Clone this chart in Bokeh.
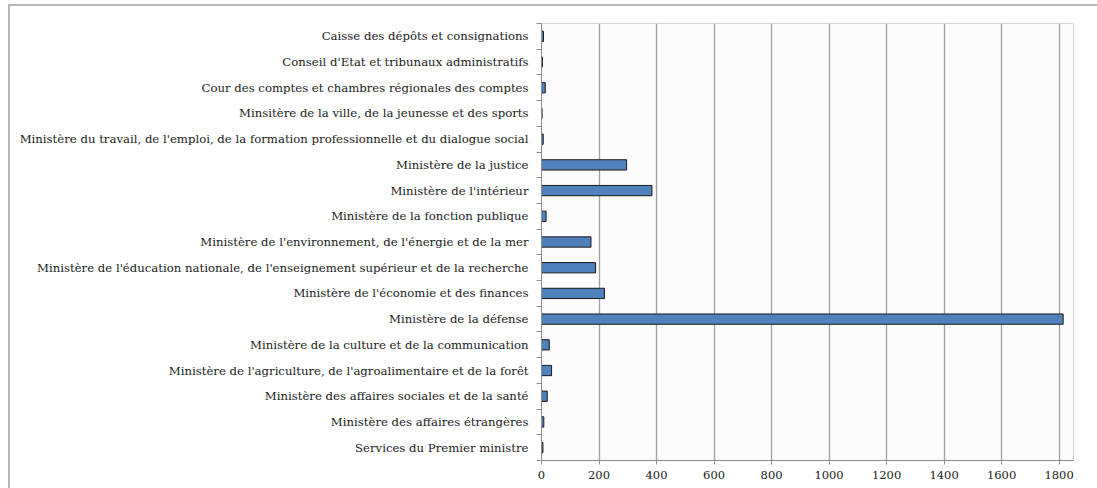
from bokeh.plotting import figure
from bokeh.models import Range1d, FixedTicker, ColumnDataSource
from bokeh.layouts import column
from bokeh.embed import file_html
from bokeh.resources import INLINE

# Categories listed from top to bottom as shown in the chart
categories = [
    "Caisse des dépôts et consignations",
    "Conseil d'Etat et tribunaux administratifs",
    "Cour des comptes et chambres régionales des comptes",
    "Minsitère de la ville, de la jeunesse et des sports",
    "Ministère du travail, de l'emploi, de la formation professionnelle et du dialogue social",
    "Ministère de la justice",
    "Ministère de l'intérieur",
    "Ministère de la fonction publique",
    "Ministère de l'environnement, de l'énergie et de la mer",
    "Ministère de l'éducation nationale, de l'enseignement supérieur et de la recherche",
    "Ministère de l'économie et des finances",
    "Ministère de la défense",
    "Ministère de la culture et de la communication",
    "Ministère de l'agriculture, de l'agroalimentaire et de la forêt",
    "Ministère des affaires sociales et de la santé",
    "Ministère des affaires étrangères",
    "Services du Premier ministre",
]
values = [7, 3, 13, 2, 6, 296, 384, 16, 172, 188, 219, 1814, 27, 35, 20, 8, 5]
x_ticks = [0, 200, 400, 600, 800, 1000, 1200, 1400, 1600, 1800]

n = len(categories)
ypos = [n - i for i in range(n)]  # top category at highest position
source = ColumnDataSource(dict(y=ypos, v=values, cat=categories))

FONT = "DejaVu Serif"

p = figure(width=1087, height=482, output_backend="svg", toolbar_location=None,
           x_range=Range1d(0, 1850), y_range=Range1d(0.5, n + 0.5),
           min_border_left=531, min_border_right=24, min_border_top=17, min_border_bottom=28)

p.hbar(y="y", right="v", left=0, height=0.4, source=source,
       fill_color="#4F81BD", line_color="#1a1a1a", line_width=1)

p.background_fill_color = "#fcfcfc"
p.border_fill_color = "white"
p.outline_line_color = "#d4d4d4"
p.outline_line_width = 1

# x axis
p.xaxis.ticker = FixedTicker(ticks=x_ticks, minor_ticks=[])
p.xaxis.axis_line_color = "#8c8c8c"
p.xaxis.major_tick_line_color = "#8c8c8c"
p.xaxis.major_tick_out = 4
p.xaxis.major_tick_in = 0
p.xaxis.minor_tick_line_color = None
p.xaxis.major_label_standoff = 6
p.xaxis.major_label_text_font = FONT
p.xaxis.major_label_text_font_size = "11.5px"
p.xaxis.major_label_text_color = "#1a1a1a"

# y axis: labels at category centres, tick marks between categories
p.yaxis.ticker = FixedTicker(ticks=ypos, minor_ticks=[k + 0.5 for k in range(n + 1)])
p.yaxis.major_label_overrides = {y: c for y, c in zip(ypos, categories)}
p.yaxis.major_tick_out = 0
p.yaxis.major_tick_in = 0
p.yaxis.minor_tick_out = 5
p.yaxis.minor_tick_in = 0
p.yaxis.minor_tick_line_color = "#8c8c8c"
p.yaxis.axis_line_color = "#8c8c8c"
p.yaxis.major_label_standoff = 8
p.yaxis.major_label_text_font = FONT
p.yaxis.major_label_text_font_size = "11.7px"
p.yaxis.major_label_text_color = "#1a1a1a"

p.xgrid.ticker = FixedTicker(ticks=x_ticks)
p.xgrid.grid_line_color = "#a0a0a0"
p.xgrid.grid_line_width = 1.3
p.ygrid.grid_line_color = None

layout = column(p, margin=(4, 0, 0, 8),
                styles={"border-left": "2px solid #b4b4b4", "border-top": "2px solid #b4b4b4"})

open("out.html", "w").write(file_html(layout, INLINE))
